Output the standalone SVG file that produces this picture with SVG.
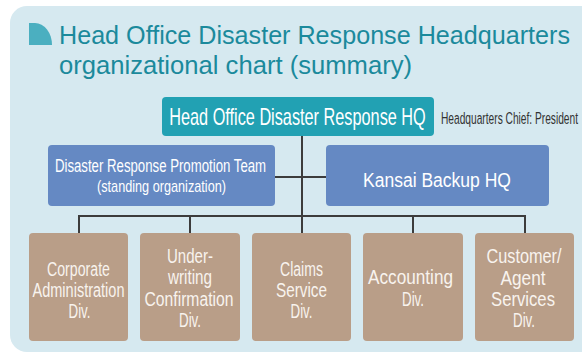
<svg xmlns="http://www.w3.org/2000/svg" width="582" height="353" viewBox="0 0 582 353">
  <style>
    text { font-family: "Liberation Sans", Arial, sans-serif; }
    .title { fill: #1b8a9c; font-size: 25px; }
    .hq { fill: #22a1b3; }
    .blue { fill: #6589c3; }
    .brown { fill: #b99e88; }
    .w { fill: #ffffff; text-anchor: middle; }
    .div { fill: #f8f3ee; font-size: 20px; text-anchor: middle; }
    .conn { stroke: #3c3c3c; stroke-width: 2; fill: none; }
  </style>
  <rect width="582" height="353" fill="#ffffff"/>
  <rect x="10" y="6" width="620" height="346" rx="17" fill="#d6e9f0"/>

  <g id="title">
    <path d="M29,45 V23 H35 A17,22 0 0 1 52,45 Z" fill="#4bafc0"/>
    <text class="title" x="59" y="44" textLength="511" lengthAdjust="spacingAndGlyphs">Head Office Disaster Response Headquarters</text>
    <text class="title" x="59" y="74" textLength="353" lengthAdjust="spacingAndGlyphs">organizational chart (summary)</text>
  </g>

  <g id="connectors">
    <line class="conn" x1="302" y1="136" x2="302" y2="233"/>
    <line class="conn" x1="275" y1="177" x2="326" y2="177"/>
    <line class="conn" x1="78" y1="216" x2="526" y2="216"/>
    <line class="conn" x1="79" y1="215" x2="79" y2="233"/>
    <line class="conn" x1="190" y1="216" x2="190" y2="233"/>
    <line class="conn" x1="413" y1="216" x2="413" y2="233"/>
    <line class="conn" x1="525" y1="215" x2="525" y2="233"/>
  </g>

  <g id="hq">
    <rect class="hq" x="162" y="97" width="272" height="39" rx="4"/>
    <text class="w" transform="translate(297.5,125) scale(0.678,1)" x="0" y="0" font-size="24">Head Office Disaster Response HQ</text>
  </g>
  <g id="chief">
    <text transform="translate(441,123.5) scale(0.6,1)" x="0" y="0" font-size="17" fill="#333333">Headquarters Chief: President</text>
  </g>

  <g id="promotion-team">
    <rect class="blue" x="48" y="145" width="227" height="61" rx="4"/>
    <text class="w" transform="translate(160.5,171.5) scale(0.7145,1)" x="0" y="0" font-size="18.5">Disaster Response Promotion Team</text>
    <text class="w" transform="translate(161.5,191.5) scale(0.793,1)" x="0" y="0" font-size="16">(standing organization)</text>
  </g>

  <g id="kansai">
    <rect class="blue" x="326" y="145" width="223" height="61" rx="4"/>
    <text class="w" transform="translate(437,186.5) scale(0.834,1)" x="0" y="0" font-size="21">Kansai Backup HQ</text>
  </g>

  <g id="corporate">
    <rect class="brown" x="29" y="233" width="99" height="108" rx="4"/>
    <text class="div" x="78.5" y="276" textLength="63" lengthAdjust="spacingAndGlyphs">Corporate</text>
    <text class="div" x="78.5" y="297" textLength="92" lengthAdjust="spacingAndGlyphs">Administration</text>
    <text class="div" x="79.5" y="317.5" textLength="22" lengthAdjust="spacingAndGlyphs">Div.</text>
  </g>

  <g id="underwriting">
    <rect class="brown" x="140" y="233" width="100" height="108" rx="4"/>
    <text class="div" x="190" y="263" textLength="46" lengthAdjust="spacingAndGlyphs">Under-</text>
    <text class="div" x="190" y="284" textLength="44" lengthAdjust="spacingAndGlyphs">writing</text>
    <text class="div" x="189" y="305.5" textLength="89" lengthAdjust="spacingAndGlyphs">Confirmation</text>
    <text class="div" x="190" y="326.5" textLength="22" lengthAdjust="spacingAndGlyphs">Div.</text>
  </g>

  <g id="claims">
    <rect class="brown" x="252" y="233" width="99" height="108" rx="4"/>
    <text class="div" x="301.5" y="276" textLength="43" lengthAdjust="spacingAndGlyphs">Claims</text>
    <text class="div" x="301.5" y="297" textLength="51" lengthAdjust="spacingAndGlyphs">Service</text>
    <text class="div" x="301.5" y="317.5" textLength="22" lengthAdjust="spacingAndGlyphs">Div.</text>
  </g>

  <g id="accounting">
    <rect class="brown" x="363" y="233" width="100" height="108" rx="4"/>
    <text class="div" x="410.5" y="284" textLength="85" lengthAdjust="spacingAndGlyphs">Accounting</text>
    <text class="div" x="413" y="305.5" textLength="22" lengthAdjust="spacingAndGlyphs">Div.</text>
  </g>

  <g id="customer">
    <rect class="brown" x="475" y="233" width="99" height="108" rx="4"/>
    <text class="div" x="524" y="263" textLength="75" lengthAdjust="spacingAndGlyphs">Customer/</text>
    <text class="div" x="523" y="285" textLength="45" lengthAdjust="spacingAndGlyphs">Agent</text>
    <text class="div" x="523" y="306" textLength="64" lengthAdjust="spacingAndGlyphs">Services</text>
    <text class="div" x="524" y="326.5" textLength="22" lengthAdjust="spacingAndGlyphs">Div.</text>
  </g>
</svg>
